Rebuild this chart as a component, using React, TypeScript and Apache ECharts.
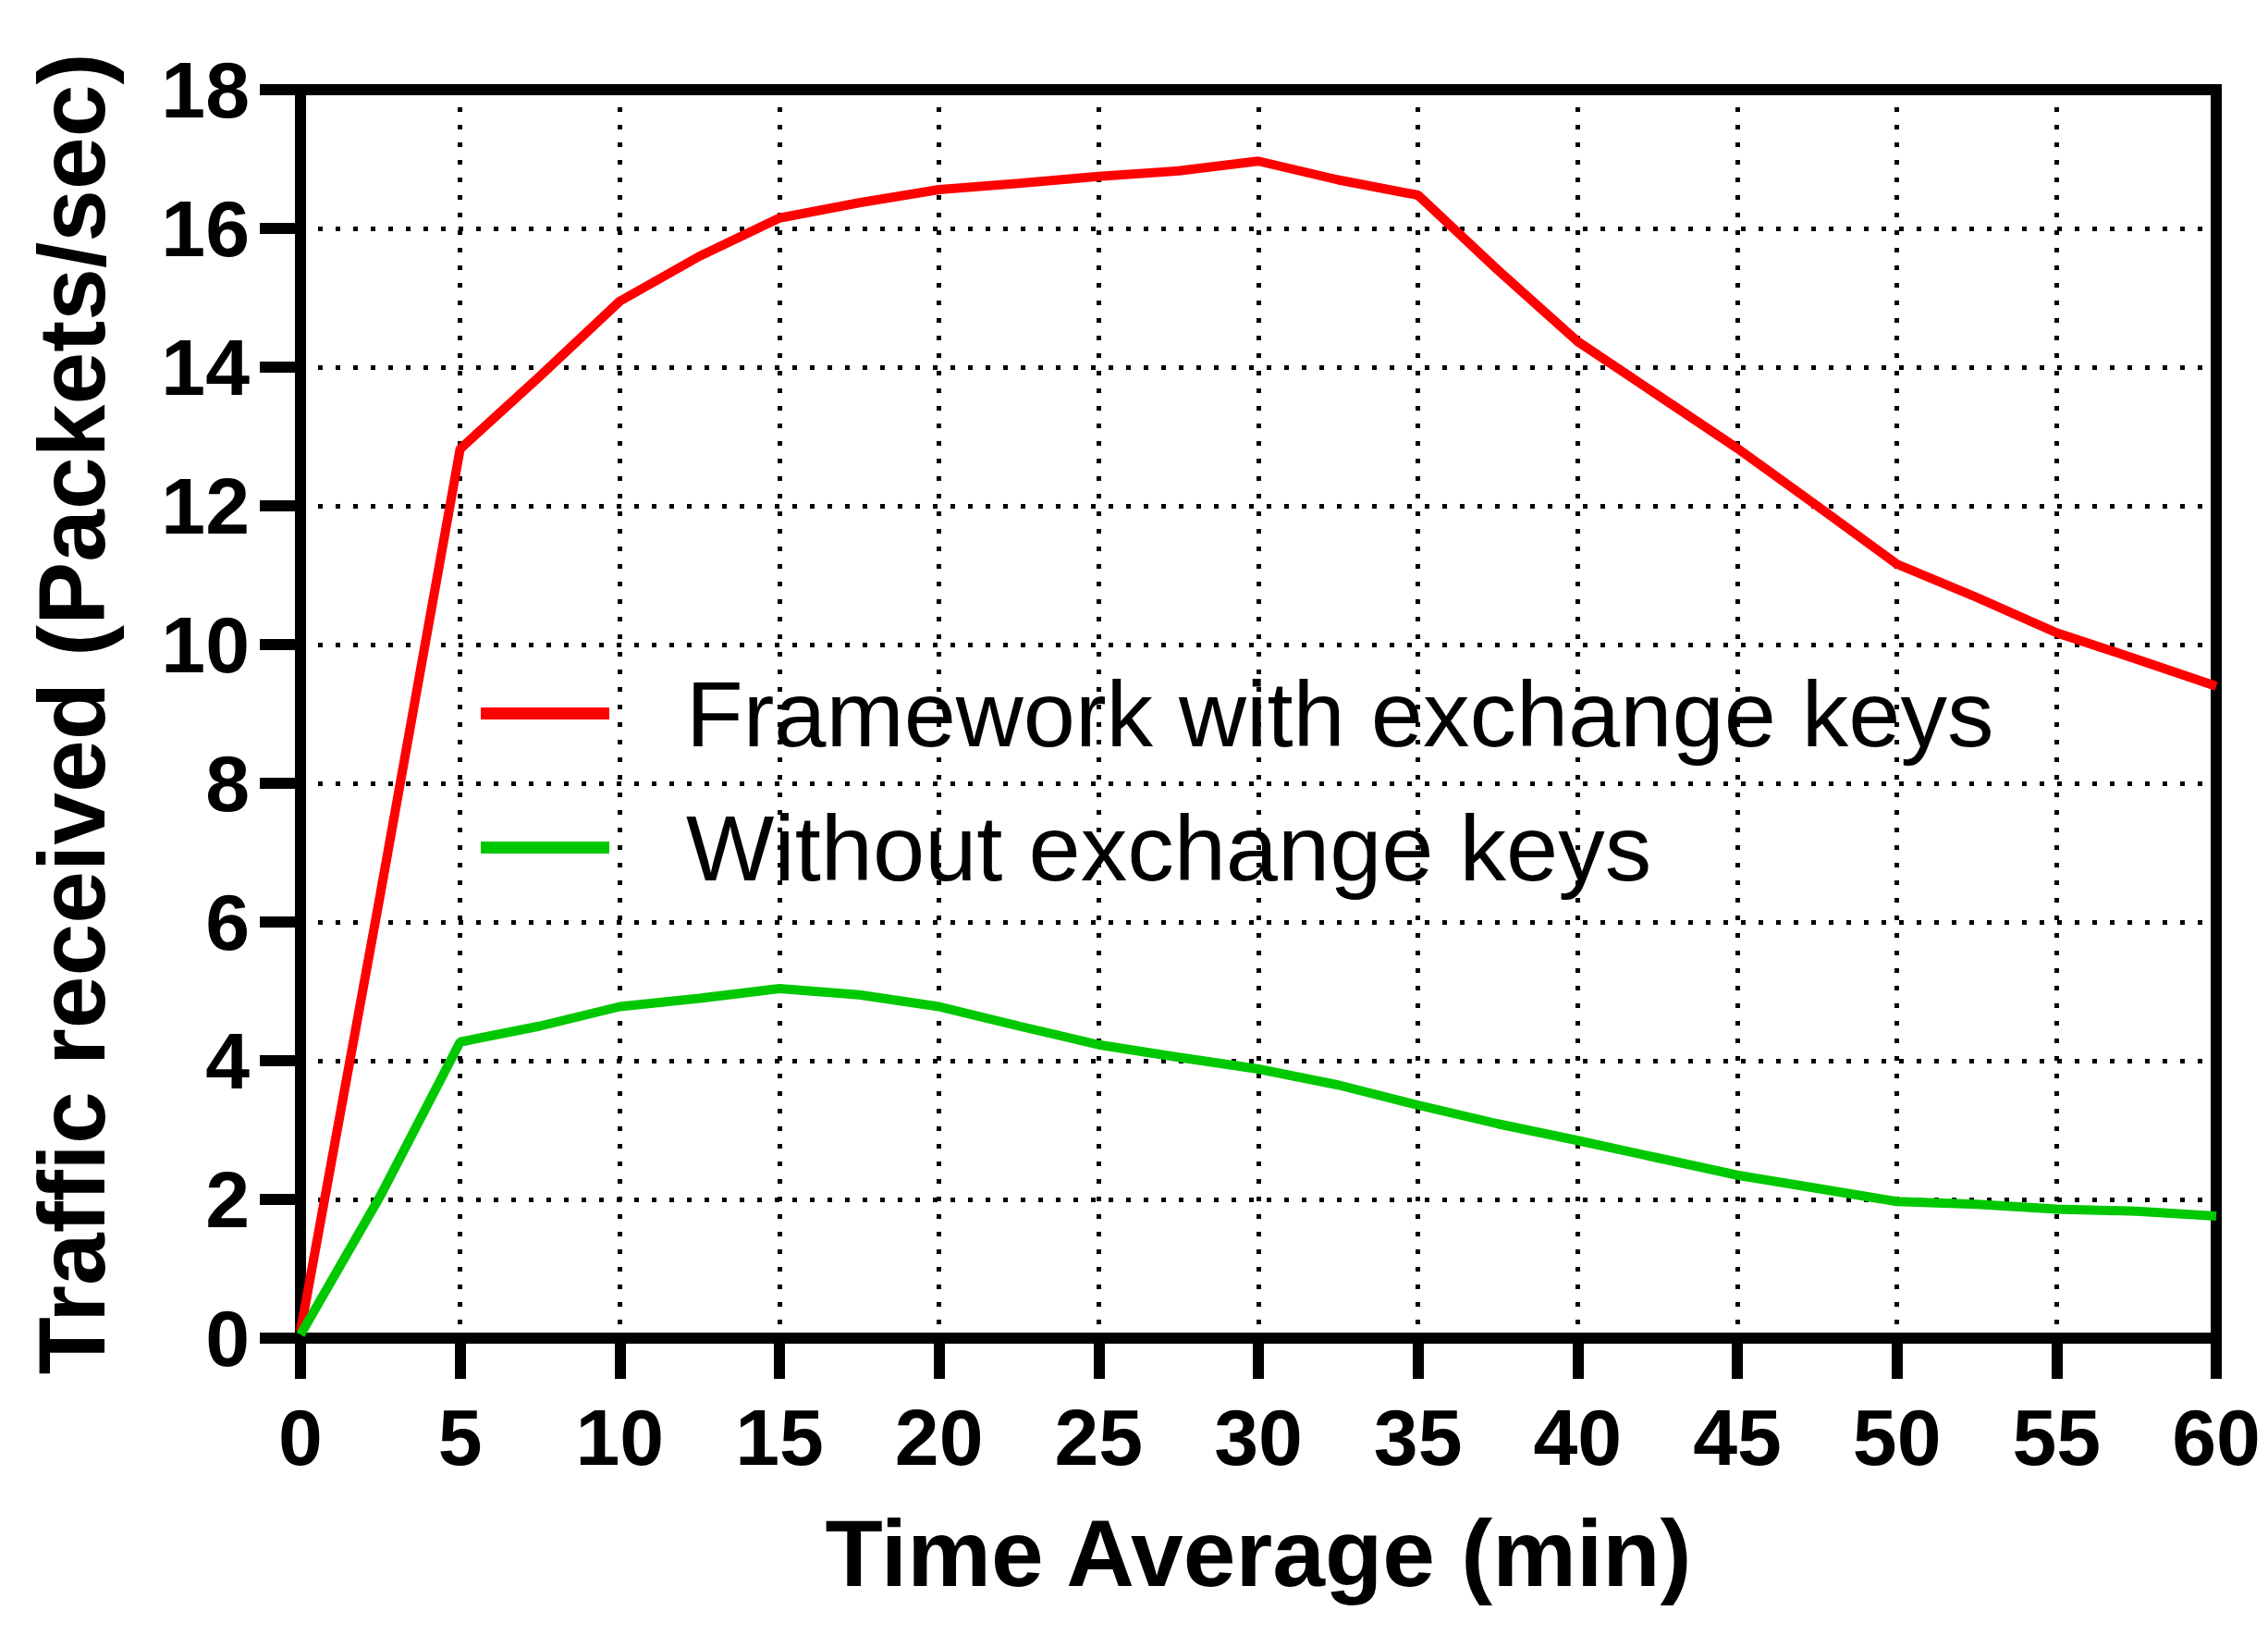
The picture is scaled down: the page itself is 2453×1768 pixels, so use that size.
import React, { useEffect, useRef } from "react";
import * as echarts from "echarts";

const times = [0, 2.5, 5, 7.5, 10, 12.5, 15, 17.5, 20, 22.5, 25, 27.5, 30, 32.5, 35, 37.5, 40, 42.5, 45, 47.5, 50, 52.5, 55, 57.5, 60];
const withKeys = [0.1, 6.4, 12.82, 13.87, 14.95, 15.6, 16.15, 16.37, 16.56, 16.65, 16.75, 16.83, 16.97, 16.7, 16.48, 15.4, 14.37, 13.6, 12.83, 12.0, 11.16, 10.68, 10.17, 9.79, 9.4];
const withoutKeys = [0.05, 2.05, 4.27, 4.5, 4.78, 4.9, 5.04, 4.95, 4.78, 4.5, 4.23, 4.05, 3.88, 3.65, 3.36, 3.09, 2.85, 2.6, 2.35, 2.16, 1.97, 1.93, 1.86, 1.83, 1.76];
const seriesNames = ["Framework with exchange keys", "Without exchange keys"];
const xTitle = "Time Average (min)";
const yTitle = "Traffic received (Packets/sec)";

const FONT = "'Liberation Sans', Arial, sans-serif";

export default function App() {
  const ref = useRef<HTMLDivElement>(null);
  useEffect(() => {
    if (!ref.current) return;
    const chart = echarts.init(ref.current, undefined, { renderer: "svg" });
    const pair = (ys: number[]) => times.map((t, i) => [t, ys[i]]);
    const dotted = { color: "#000", width: 5, type: [5, 14] };
    chart.setOption({
      animation: false,
      backgroundColor: "#fff",
      grid: {
        left: 325,
        right: 56,
        top: 97,
        bottom: 321,
        show: true,
        borderColor: "#000",
        borderWidth: 12,
        backgroundColor: "transparent",
      },
      legend: {
        orient: "vertical",
        left: 515,
        top: 716,
        itemWidth: 139,
        itemHeight: 13,
        itemGap: 44,
        icon: "rect",
        textStyle: {
          fontFamily: FONT,
          fontSize: 101,
          lineHeight: 101,
          color: "#000",
          padding: [0, 0, 0, 78],
        },
        data: seriesNames,
      },
      xAxis: {
        type: "value",
        min: 0,
        max: 60,
        interval: 5,
        name: xTitle,
        nameLocation: "middle",
        nameGap: 182,
        nameTextStyle: { fontFamily: FONT, fontWeight: "bold", fontSize: 102, color: "#000" },
        axisLine: { show: true, lineStyle: { color: "#000", width: 12 } },
        axisTick: { show: true, inside: false, length: 44, lineStyle: { color: "#000", width: 12 } },
        axisLabel: { fontFamily: FONT, fontWeight: "bold", fontSize: 86, color: "#000", margin: 64 },
        splitLine: { show: true, lineStyle: dotted },
      },
      yAxis: {
        type: "value",
        min: 0,
        max: 18,
        interval: 2,
        name: yTitle,
        nameLocation: "middle",
        nameGap: 196,
        nameTextStyle: { fontFamily: FONT, fontWeight: "bold", fontSize: 102, color: "#000" },
        axisLine: { show: true, lineStyle: { color: "#000", width: 12 } },
        axisTick: { show: true, inside: false, length: 44, lineStyle: { color: "#000", width: 12 } },
        axisLabel: { fontFamily: FONT, fontWeight: "bold", fontSize: 86, color: "#000", margin: 55 },
        splitLine: { show: true, lineStyle: dotted },
      },
      series: [
        {
          name: seriesNames[0],
          type: "line",
          data: pair(withKeys),
          showSymbol: false,
          symbol: "none",
          color: "#FF0000",
          lineStyle: { color: "#FF0000", width: 10 },
          z: 3,
        },
        {
          name: seriesNames[1],
          type: "line",
          data: pair(withoutKeys),
          showSymbol: false,
          symbol: "none",
          color: "#00C800",
          lineStyle: { color: "#00C800", width: 10 },
          z: 3,
        },
      ],
    });
    return () => chart.dispose();
  }, []);
  return (
    <div
      ref={ref}
      style={{ position: "fixed", left: 0, top: 0, width: 2453, height: 1768, background: "#fff" }}
    />
  );
}
